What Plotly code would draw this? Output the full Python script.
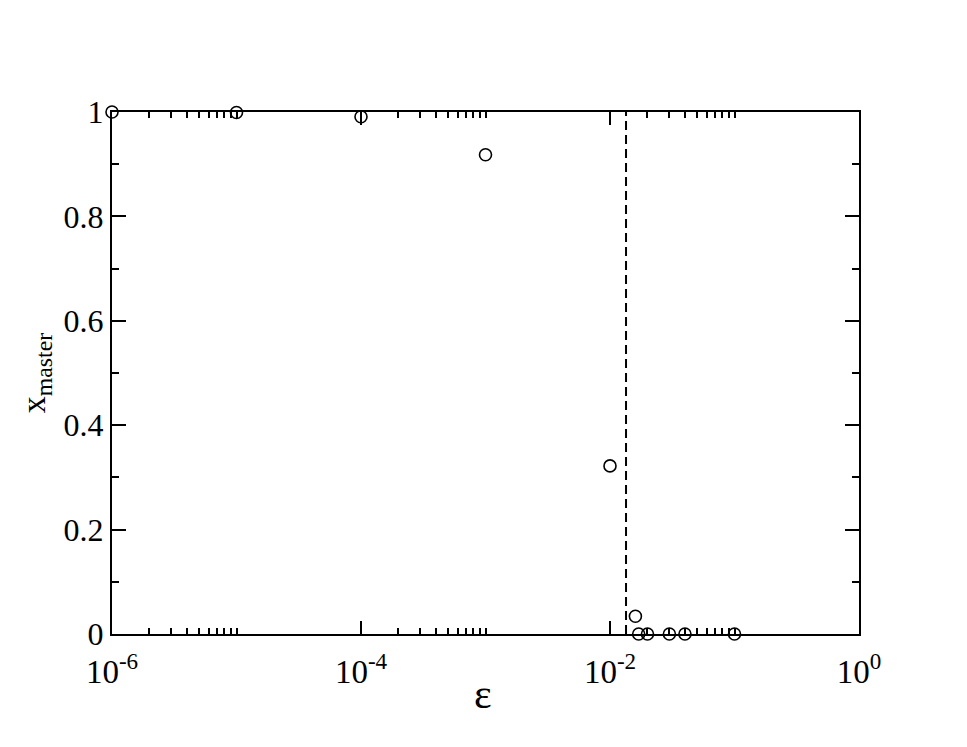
import plotly.graph_objects as go

# data
eps = [1e-6, 1e-5, 1e-4, 1e-3, 1e-2, 0.016, 0.017, 0.02, 0.03, 0.04, 0.1]
x_master = [1.0, 0.999, 0.991, 0.918, 0.322, 0.034, 0.0, 0.0, 0.0, 0.0, 0.0]
threshold = [0.01345]
y_span = [0.0, 1.0]
x_tickvals = [1e-6, 1e-4, 1e-2, 1.0]
x_ticktext = ["10<sup>-6</sup>", "10<sup>-4</sup>", "10<sup>-2</sup>", "10<sup>0</sup>"]
minor_decades = [-6, -4, -2]
x_minor = [k * 10.0 ** d for d in minor_decades for k in range(2, 11)]
y_tickvals = [0, 0.2, 0.4, 0.6, 0.8, 1.0]
y_ticktext = ["0", "0.2", "0.4", "0.6", "0.8", "1"]

font = "Liberation Serif"

fig = go.Figure()
fig.add_trace(go.Scatter(
    x=[threshold[0], threshold[0]], y=y_span, mode="lines",
    line=dict(color="black", width=2, dash="9px,5px"),
    showlegend=False, hoverinfo="skip", cliponaxis=False))
fig.add_trace(go.Scatter(
    x=eps, y=x_master, mode="markers",
    marker=dict(symbol="circle-open", size=12, color="black", line=dict(width=1.6)),
    showlegend=False, cliponaxis=False))

fig.update_layout(
    width=967, height=747,
    margin=dict(l=104, r=116, t=104, b=121),
    paper_bgcolor="white", plot_bgcolor="white",
    font=dict(family=font, color="black", size=32),
    xaxis=dict(
        type="log", range=[-6, 0],
        tickmode="array", tickvals=x_tickvals, ticktext=x_ticktext,
        ticks="inside", ticklen=13, tickwidth=2, tickcolor="black",
        showline=True, linewidth=2, linecolor="black", mirror="ticks",
        showgrid=False, zeroline=False,
        tickfont=dict(family=font, size=33),
        ticklabelstandoff=7,
        minor=dict(tickmode="array", tickvals=x_minor, ticks="inside",
                   ticklen=6, tickwidth=1.5, tickcolor="black", showgrid=False),
    ),
    yaxis=dict(
        range=[0, 1],
        tickmode="array", tickvals=y_tickvals, ticktext=y_ticktext,
        ticks="inside", ticklen=14, tickwidth=2, tickcolor="black",
        showline=True, linewidth=2, linecolor="black", mirror="ticks",
        showgrid=False, zeroline=False,
        tickfont=dict(family=font, size=32),
        minor=dict(dtick=0.1, ticks="inside", ticklen=7, tickwidth=1.5,
                   tickcolor="black", showgrid=False),
        title=dict(text="x<sub>master</sub>", font=dict(family=font, size=34), standoff=8),
    ),
    annotations=[dict(
        text="ε", xref="paper", yref="paper", x=0.497, y=0,
        xanchor="center", yanchor="middle", yshift=-60, showarrow=False,
        font=dict(family=font, size=42, color="black"))],
)

fig.write_html("out.html")
